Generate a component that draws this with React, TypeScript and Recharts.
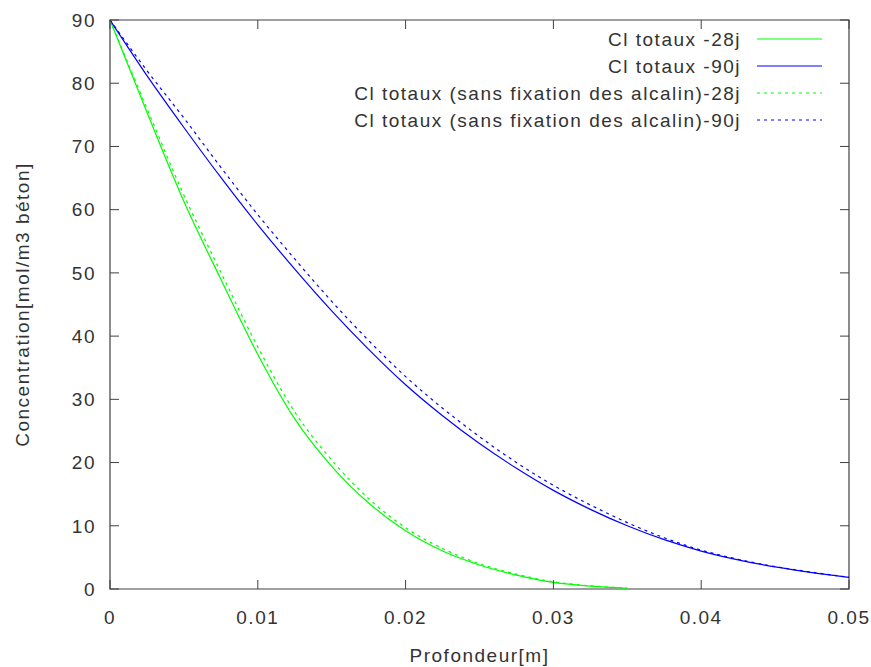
import React from 'react';
import { LineChart, Line, XAxis, YAxis, ReferenceArea, Label } from 'recharts';

// profondeur (m), pas de 0.0025
const depth = [
  0, 0.0025, 0.005, 0.0075, 0.01, 0.0125, 0.015, 0.0175, 0.02, 0.0225, 0.025,
  0.0275, 0.03, 0.0325, 0.035, 0.0375, 0.04, 0.0425, 0.045, 0.0475, 0.05,
];

// Cl totaux, mol/m3 béton
const cl28 = [90, 75.4, 61.3, 49.0, 37.1, 26.9, 19.4, 13.6, 9.2, 6.0, 3.8, 2.2, 1.05, 0.45, 0.12];
const cl90 = [90, 81.2, 73.0, 65.1, 57.6, 50.6, 44.0, 37.9, 32.3, 27.4, 23.0, 19.1, 15.6, 12.6, 10.0, 7.8, 6.0, 4.6, 3.5, 2.6, 1.85];
const cl28SansFix = [90, 76.0, 62.3, 50.1, 38.3, 28.0, 20.4, 14.3, 9.7, 6.4, 4.0, 2.35, 1.15, 0.5, 0.15];
const cl90SansFix = [90, 82.0, 74.5, 66.7, 59.2, 52.2, 45.5, 39.3, 33.6, 28.6, 24.1, 20.0, 16.4, 13.3, 10.5, 8.1, 6.15, 4.7, 3.55, 2.65, 1.85];

const xTicks = [0, 0.01, 0.02, 0.03, 0.04, 0.05];
const yTicks = [0, 10, 20, 30, 40, 50, 60, 70, 80, 90];

const W = 871;
const H = 667;
const TOP = 20;
const BOTTOM = 589;
const LEFT = 110;
const RIGHT = 849;
const TICK = 9;
const FONT = '"Liberation Sans", Arial, sans-serif';
const INK = '#333';
const AXIS = '#404040';
const GREEN = '#00ff00';
const BLUE = '#0000ff';

const series = [
  { key: 'c28', name: 'Cl totaux -28j', color: GREEN, dash: undefined as string | undefined },
  { key: 'c90', name: 'Cl totaux -90j', color: BLUE, dash: undefined },
  { key: 'c28s', name: 'Cl totaux (sans fixation des alcalin)-28j', color: GREEN, dash: '3 4' },
  { key: 'c90s', name: 'Cl totaux (sans fixation des alcalin)-90j', color: BLUE, dash: '3 4' },
];

const data = depth.map((x, i) => ({
  x,
  c28: cl28[i] ?? null,
  c90: cl90[i] ?? null,
  c28s: cl28SansFix[i] ?? null,
  c90s: cl90SansFix[i] ?? null,
}));

const textStyle = { fontFamily: FONT, fontSize: 19, letterSpacing: 1.5, fill: INK };

const XTick = (props: any) => {
  const { x, y, payload } = props;
  return (
    <g>
      <line x1={x} y1={y} x2={x} y2={y - TICK} stroke={AXIS} />
      <line x1={x} y1={TOP} x2={x} y2={TOP + TICK} stroke={AXIS} />
      <text x={x} y={y + 28} dy="0.355em" textAnchor="middle" style={textStyle}>
        {String(payload.value)}
      </text>
    </g>
  );
};

const YTick = (props: any) => {
  const { x, y, payload } = props;
  return (
    <g>
      <line x1={x} y1={y} x2={x + TICK} y2={y} stroke={AXIS} />
      <line x1={RIGHT} y1={y} x2={RIGHT - TICK} y2={y} stroke={AXIS} />
      <text x={x - 14} y={y} dy="0.355em" textAnchor="end" style={textStyle}>
        {String(payload.value)}
      </text>
    </g>
  );
};

const XTitle = () => (
  <text x={(LEFT + RIGHT) / 2} y={655} dy="0.355em" textAnchor="middle" style={textStyle}>
    Profondeur[m]
  </text>
);

const YTitle = () => {
  const cy = (TOP + BOTTOM) / 2;
  return (
    <text x={22} y={cy} dy="0.355em" textAnchor="middle" transform={`rotate(-90 22 ${cy})`} style={textStyle}>
      Concentration[mol/m3 béton]
    </text>
  );
};

const LegendBox = () => (
  <svg width={W} height={H} style={{ position: 'absolute', left: 0, top: 0, pointerEvents: 'none' }}>
    {series.map((s, i) => {
      const cy = 39 + i * 27;
      return (
        <g key={s.key}>
          <text x={741} y={cy} dy="0.355em" textAnchor="end" style={textStyle}>
            {s.name}
          </text>
          <line x1={757} y1={cy} x2={822} y2={cy} stroke={s.color} strokeWidth={1.2} strokeDasharray={s.dash} />
        </g>
      );
    })}
  </svg>
);

export default function App() {
  return (
    <div style={{ position: 'absolute', left: 0, top: 0, width: W, height: H, background: '#fff' }}>
      <LineChart width={W} height={H} data={data} margin={{ top: TOP, right: W - RIGHT, bottom: 0, left: 0 }}>
        <XAxis
          type="number"
          dataKey="x"
          domain={[0, 0.05]}
          ticks={xTicks}
          height={H - BOTTOM}
          axisLine={false}
          tickLine={false}
          tickSize={0}
          tickMargin={0}
          tick={<XTick />}
          interval={0}
        >
          <Label content={<XTitle />} />
        </XAxis>
        <YAxis
          type="number"
          domain={[0, 90]}
          ticks={yTicks}
          width={LEFT}
          axisLine={false}
          tickLine={false}
          tickSize={0}
          tickMargin={0}
          tick={<YTick />}
          interval={0}
        >
          <Label content={<YTitle />} />
        </YAxis>
        <ReferenceArea x1={0} x2={0.05} y1={0} y2={90} fill="none" stroke={AXIS} strokeWidth={1.2} />
        {series.map((s) => (
          <Line
            key={s.key}
            type="monotone"
            dataKey={s.key}
            name={s.name}
            stroke={s.color}
            strokeWidth={1.2}
            strokeDasharray={s.dash}
            dot={false}
            activeDot={false}
            isAnimationActive={false}
          />
        ))}
      </LineChart>
      <LegendBox />
    </div>
  );
}
